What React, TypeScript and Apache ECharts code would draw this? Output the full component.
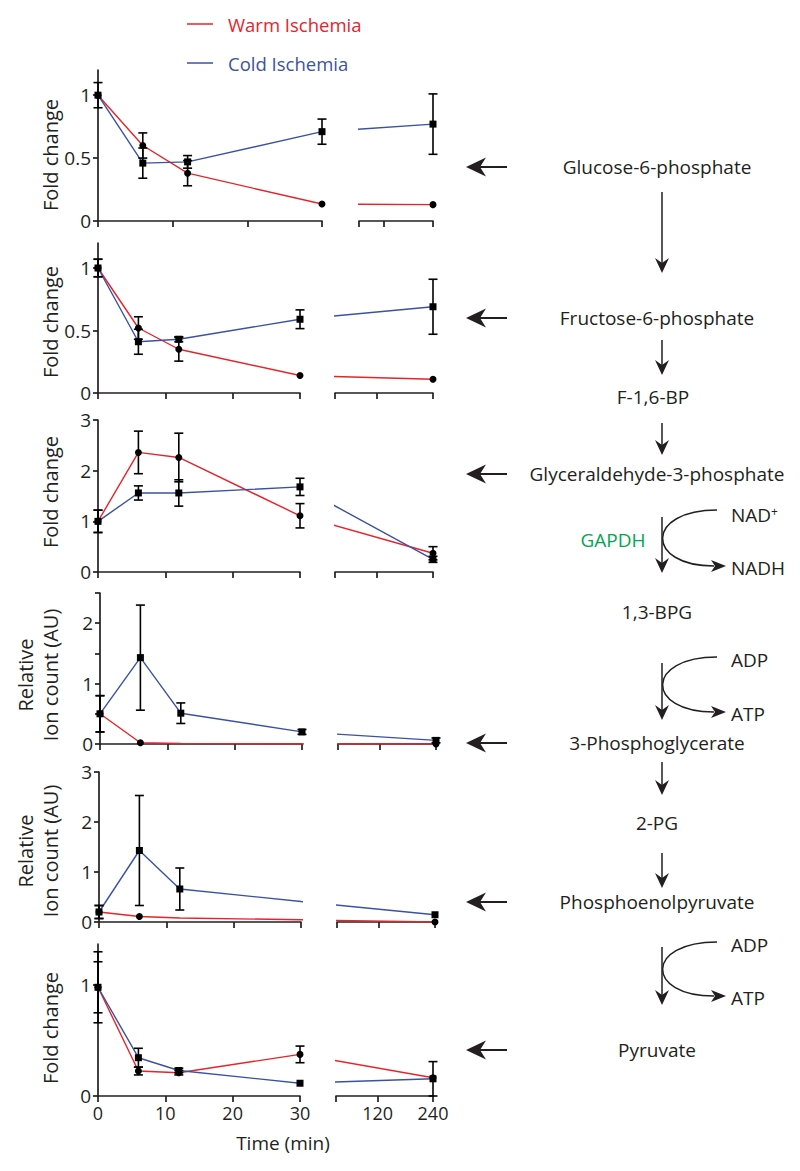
import React, { useEffect, useRef } from "react";
import * as echarts from "echarts";

// ---------- data ----------
const TIMES = [0, 6, 12, 30, 240];
const SEG2_LABELS = [120, 240];

// Glucose-6-phosphate
const warmG6P = [1.0, 0.6, 0.38, 0.135, 0.13];
const warmG6PErr = [0, 0.1, 0.1, 0, 0];
const coldG6P = [1.0, 0.46, 0.47, 0.71, 0.77];
const coldG6PErr = [0.1, 0.12, 0.05, 0.1, 0.24];

// Fructose-6-phosphate
const warmF6P = [1.0, 0.52, 0.35, 0.14, 0.11];
const warmF6PErr = [0.07, 0.09, 0.095, 0, 0];
const coldF6P = [1.0, 0.41, 0.43, 0.59, 0.69];
const coldF6PErr = [0.07, 0.1, 0.02, 0.075, 0.22];

// Glyceraldehyde-3-phosphate
const warmG3P = [1.0, 2.36, 2.26, 1.11, 0.37];
const warmG3PErr = [0.22, 0.42, 0.48, 0.24, 0.13];
const coldG3P = [1.0, 1.56, 1.56, 1.68, 0.25];
const coldG3PErr = [0.22, 0.14, 0.26, 0.17, 0.06];

// 3-Phosphoglycerate
const warm3PG = [0.5, 0.02, 0.01, 0.0, 0.0];
const warm3PGErr = [0.3, 0, 0, 0, 0];
const cold3PG = [0.5, 1.43, 0.51, 0.2, 0.06];
const cold3PGErr = [0.3, 0.87, 0.17, 0.04, 0.04];

// Phosphoenolpyruvate
const warmPEP = [0.2, 0.11, 0.08, 0.045, 0.0];
const warmPEPErr = [0.13, 0, 0, 0, 0];
const coldPEP = [0.2, 1.43, 0.66, 0.41, 0.145];
const coldPEPErr = [0.13, 1.1, 0.42, 0, 0];

// Pyruvate
const warmPyr = [0.98, 0.225, 0.21, 0.375, 0.165];
const warmPyrErr = [0.32, 0.035, 0.02, 0.075, 0];
const coldPyr = [0.98, 0.345, 0.23, 0.115, 0.155];
const coldPyrErr = [0.23, 0.085, 0.02, 0, 0.155];

// markers shown (1) or not drawn in the original (0)
const ALL_SHOWN = [1, 1, 1, 1, 1];
const warm3PGShown = [1, 1, 0, 0, 1];
const warmPEPShown = [1, 1, 0, 0, 1];
const coldPEPShown = [1, 1, 1, 0, 1];

const WARM = [warmG6P, warmF6P, warmG3P, warm3PG, warmPEP, warmPyr];
const WARM_ERR = [warmG6PErr, warmF6PErr, warmG3PErr, warm3PGErr, warmPEPErr, warmPyrErr];
const WARM_SHOWN = [ALL_SHOWN, ALL_SHOWN, ALL_SHOWN, warm3PGShown, warmPEPShown, ALL_SHOWN];
const COLD = [coldG6P, coldF6P, coldG3P, cold3PG, coldPEP, coldPyr];
const COLD_ERR = [coldG6PErr, coldF6PErr, coldG3PErr, cold3PGErr, coldPEPErr, coldPyrErr];
const COLD_SHOWN = [ALL_SHOWN, ALL_SHOWN, ALL_SHOWN, ALL_SHOWN, coldPEPShown, ALL_SHOWN];

const Y_MAX = [1.2, 1.2, 3, 2.5, 3, 1.37];
const Y_TICKS = [[0, 0.5, 1], [0, 0.5, 1], [0, 1, 2, 3], [0, 0.5, 1, 1.5, 2, 2.5], [0, 1, 2, 3], [0, 1]];
const Y_LABELS = [[0, 0.5, 1], [0, 0.5, 1], [0, 1, 2, 3], [0, 1, 2], [0, 1, 2, 3], [0, 1]];
const SEG2_START = [60, 30, 30, 30, 30, 30];
const Y_TITLES = ["Fold change", "Fold change", "Fold change", "Relative\nIon count (AU)", "Relative\nIon count (AU)", "Fold change"];

const SERIES_NAMES = ["Warm Ischemia", "Cold Ischemia"];
const PATHWAY_LABELS = ["Glucose-6-phosphate", "Fructose-6-phosphate", "F-1,6-BP", "Glyceraldehyde-3-phosphate", "1,3-BPG", "3-Phosphoglycerate", "2-PG", "Phosphoenolpyruvate", "Pyruvate"];

// ---------- layout ----------
const LAYOUT = [
  { left: 98, end1: 322, start2: 359, end2: 433, top: 70, bottom: 221, titleY: 155 },
  { left: 98, end1: 300, start2: 335, end2: 433, top: 243, bottom: 393, titleY: 322 },
  { left: 98, end1: 300, start2: 335, end2: 433, top: 420, bottom: 572, titleY: 492 },
  { left: 100, end1: 302, start2: 338, end2: 436, top: 593, bottom: 744, titleY: 675 },
  { left: 99, end1: 301, start2: 337, end2: 435, top: 772, bottom: 922, titleY: 851 },
  { left: 98, end1: 300, start2: 336, end2: 433, top: 944, bottom: 1096, titleY: 1028 },
];
const PATH_Y = [167, 318, 397, 474, 612, 743, 823, 902, 1050];
const PATH_ARROW = [true, true, false, true, false, true, false, true, true];
const DOWN_ARROWS = [[192, 273], [340, 375], [423, 455], [517, 573], [663, 720], [762, 795], [853, 888], [947, 1005]];
const CURVES = [
  { y1: 510, y2: 566, a: "NAD", b: "NADH", sup: true },
  { y1: 657, y2: 712, a: "ADP", b: "ATP", sup: false },
  { y1: 942, y2: 996, a: "ADP", b: "ATP", sup: false },
];

const RED = "#e8232a";
const BLUE = "#3b52a3";
const INK = "#231f20";
const FONT = "Open Sans";

function buildOption() {
  const grid: any[] = [];
  const xAxis: any[] = [];
  const yAxis: any[] = [];
  const series: any[] = [];
  const axisLine = { show: true, onZero: false, lineStyle: { color: INK, width: 1.7 } };

  LAYOUT.forEach((L, p) => {
    const S2 = SEG2_START[p];
    const s1 = (L.end1 - L.left) / 30;
    const s2 = (L.end2 - L.start2) / (240 - S2);
    const d0 = 30 + (L.start2 - L.end1) / s1;
    const D2 = (t: number) => d0 + ((t - S2) * s2) / s1;
    const D = (t: number) => (t <= 30 ? t : D2(t));
    const inv = (d: number) => S2 + ((d - d0) * s1) / s2;
    const h = L.bottom - L.top;
    const showX = p === LAYOUT.length - 1;
    const labelStyle = { show: showX, color: INK, fontSize: 18, fontFamily: FONT, margin: 8 };

    grid.push({ left: L.left, top: L.top, width: L.end1 - L.left, height: h });
    grid.push({ left: L.start2, top: L.top, width: L.end2 - L.start2, height: h });

    xAxis.push({
      gridIndex: 2 * p, type: "value", min: 0, max: 30, interval: 10,
      axisLine, axisTick: { show: true, length: 6, lineStyle: { color: INK, width: 1.7 } },
      axisLabel: labelStyle, splitLine: { show: false },
    });
    xAxis.push({
      gridIndex: 2 * p + 1, type: "value", min: D2(S2), max: D2(240),
      axisLine,
      axisTick: { show: true, length: 6, lineStyle: { color: INK, width: 1.7 }, customValues: [D2(S2), D2(120), D2(240)] },
      axisLabel: { ...labelStyle, customValues: SEG2_LABELS.map(D2), formatter: (v: number) => String(Math.round(inv(v))) },
      splitLine: { show: false },
    });
    yAxis.push({
      gridIndex: 2 * p, type: "value", min: 0, max: Y_MAX[p],
      axisLine,
      axisTick: { show: true, length: 5, lineStyle: { color: INK, width: 1.7 }, customValues: Y_TICKS[p] },
      axisLabel: { color: INK, fontSize: 19, fontFamily: FONT, margin: 7, customValues: Y_LABELS[p] },
      splitLine: { show: false },
    });
    yAxis.push({ gridIndex: 2 * p + 1, type: "value", min: 0, max: Y_MAX[p], show: false, splitLine: { show: false } });

    const groups = [
      { vals: WARM[p], errs: WARM_ERR[p], shown: WARM_SHOWN[p], color: RED, symbol: "circle", name: SERIES_NAMES[0] },
      { vals: COLD[p], errs: COLD_ERR[p], shown: COLD_SHOWN[p], color: BLUE, symbol: "rect", name: SERIES_NAMES[1] },
    ];
    for (let seg = 0; seg < 2; seg++) {
      const gi = 2 * p + seg;
      groups.forEach((g) => {
        series.push({
          type: "line", name: g.name, xAxisIndex: gi, yAxisIndex: gi,
          data: TIMES.map((t, i) => ({ value: [D(t), g.vals[i]], symbolSize: g.shown[i] ? 7 : 0 })),
          symbol: g.symbol, symbolSize: 7, showAllSymbol: true,
          itemStyle: { color: "#000" }, lineStyle: { color: g.color, width: 1.4 },
          clip: true, z: 3,
        });
      });
      groups.forEach((g) => {
        const pts = TIMES.map((t, i) => ({ t, v: g.vals[i], e: g.errs[i] }))
          .filter((o) => o.e > 0 && (seg === 0 ? o.t <= 30 : o.t > 30))
          .map((o) => [D(o.t), Math.max(0, o.v - o.e), o.v + o.e]);
        if (!pts.length) return;
        series.push({
          type: "custom", xAxisIndex: gi, yAxisIndex: gi, data: pts, z: 4, silent: true,
          renderItem: (_params: any, api: any) => {
            const x = api.value(0);
            const lo = api.coord([x, api.value(1)]);
            const hi = api.coord([x, api.value(2)]);
            const hw = 4.5;
            const st = { stroke: "#000", lineWidth: 1.6 };
            return {
              type: "group",
              children: [
                { type: "line", shape: { x1: lo[0], y1: lo[1], x2: hi[0], y2: hi[1] }, style: st },
                { type: "line", shape: { x1: lo[0] - hw, y1: lo[1], x2: lo[0] + hw, y2: lo[1] }, style: st },
                { type: "line", shape: { x1: hi[0] - hw, y1: hi[1], x2: hi[0] + hw, y2: hi[1] }, style: st },
              ],
            };
          },
        });
      });
    }
  });

  // ---------- graphics ----------
  const txt = (x: number, y: number, text: string, opts: any = {}) => ({
    type: "text", x, y, z: 10,
    style: {
      text, fill: opts.fill || INK, fontSize: opts.fontSize || 19, fontFamily: FONT,
      textAlign: opts.align || "center", align: opts.align || "center",
      textVerticalAlign: "middle", verticalAlign: "middle",
      lineHeight: opts.lineHeight,
    },
    rotation: opts.rotation || 0,
  });
  const g: any[] = [];
  // legend
  g.push({ type: "line", shape: { x1: 187, y1: 24, x2: 213, y2: 24 }, style: { stroke: RED, lineWidth: 1.5 } });
  g.push(txt(228, 24, SERIES_NAMES[0], { align: "left", fill: RED, fontSize: 18.5 }));
  g.push({ type: "line", shape: { x1: 187, y1: 63, x2: 213, y2: 63 }, style: { stroke: BLUE, lineWidth: 1.5 } });
  g.push(txt(228, 63, SERIES_NAMES[1], { align: "left", fill: BLUE, fontSize: 18.5 }));
  // y titles
  LAYOUT.forEach((L, p) => {
    const two = Y_TITLES[p].includes("\n");
    g.push(txt(two ? 38 : 50, L.titleY, Y_TITLES[p], { rotation: Math.PI / 2, lineHeight: 25, fontSize: 20 }));
  });
  g.push(txt(283, 1143, "Time (min)", { fontSize: 19 }));

  // pathway
  PATHWAY_LABELS.forEach((lab, i) => {
    const y = PATH_Y[i];
    g.push(txt(i === 2 ? 653 : 657, y, lab));
    if (PATH_ARROW[i]) {
      g.push({ type: "line", shape: { x1: 480, y1: y, x2: 507, y2: y }, style: { stroke: INK, lineWidth: 2 } });
      g.push({ type: "polygon", shape: { points: [[466, y], [486, y - 9.5], [480, y], [486, y + 9.5]] }, style: { fill: INK } });
    }
  });
  const AX = 662;
  DOWN_ARROWS.forEach(([y1, y2]) => {
    g.push({ type: "line", shape: { x1: AX, y1, x2: AX, y2: y2 - 8 }, style: { stroke: INK, lineWidth: 1.5 } });
    g.push({ type: "polygon", shape: { points: [[AX, y2], [AX - 7, y2 - 15], [AX, y2 - 10], [AX + 7, y2 - 15]] }, style: { fill: INK } });
  });
  CURVES.forEach((c) => {
    g.push({
      type: "bezierCurve",
      shape: { x1: 717, y1: c.y1, cpx1: 645, cpy1: c.y1, cpx2: 645, cpy2: c.y2, x2: 714, y2: c.y2 },
      style: { stroke: INK, lineWidth: 1.5, fill: "none" },
    });
    g.push({ type: "polygon", shape: { points: [[726, c.y2], [711, c.y2 - 6], [715, c.y2], [711, c.y2 + 6]] }, style: { fill: INK } });
    if (c.sup) {
      g.push({
        type: "text", x: 731, y: c.y1 + 5, z: 10,
        style: {
          text: "{a|" + c.a + "}{b|+}", fill: INK, fontFamily: FONT, fontSize: 19,
          textAlign: "left", align: "left", textVerticalAlign: "middle", verticalAlign: "middle",
          rich: { a: { fontSize: 19, fontFamily: FONT, fill: INK }, b: { fontSize: 12, fontFamily: FONT, fill: INK, verticalAlign: "top" } },
        },
      });
    } else {
      g.push(txt(731, c.y1 + 3, c.a, { align: "left" }));
    }
    g.push(txt(731, c.y2 + 2, c.b, { align: "left" }));
  });
  g.push(txt(613, 540, "GAPDH", { fill: "#00a651" }));

  return {
    animation: false,
    backgroundColor: "#ffffff",
    textStyle: { fontFamily: FONT },
    grid, xAxis, yAxis, series,
    graphic: { elements: g },
  };
}

export default function App() {
  const ref = useRef<HTMLDivElement>(null);
  useEffect(() => {
    if (!ref.current) return;
    const chart = echarts.init(ref.current, undefined, { renderer: "svg" });
    chart.setOption(buildOption());
    return () => chart.dispose();
  }, []);
  return (
    <div
      ref={ref}
      style={{ position: "absolute", left: 0, top: 0, width: 800, height: 1171, background: "#fff" }}
    />
  );
}
